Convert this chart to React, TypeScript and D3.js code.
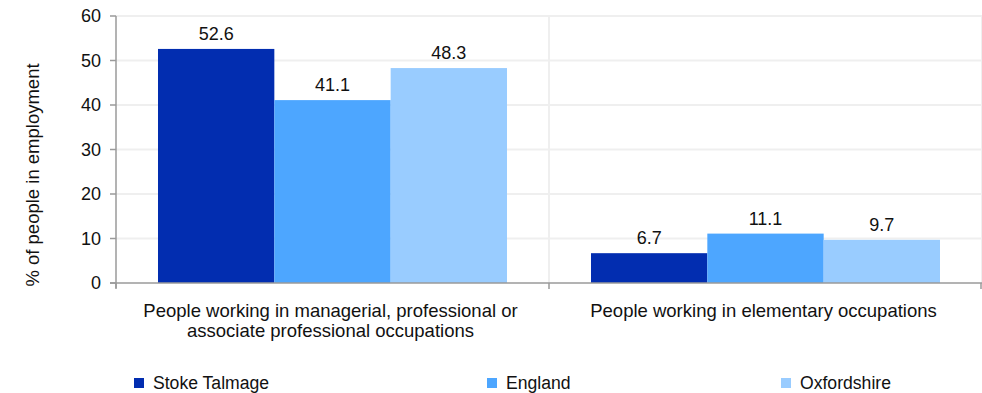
import React from "react";
import * as d3 from "d3";

const categories = [
  ["People working in managerial, professional or", "associate professional occupations"],
  ["People working in elementary occupations"],
];
const seriesNames = ["Stoke Talmage", "England", "Oxfordshire"];
const stokeTalmage = [52.6, 6.7];
const england = [41.1, 11.1];
const oxfordshire = [48.3, 9.7];
const yTicks = [0, 10, 20, 30, 40, 50, 60];
const yTitle = "% of people in employment";

const seriesValues = [stokeTalmage, england, oxfordshire];
const colors = ["#022db0", "#4da6ff", "#99ccff"];

const W = 982;
const H = 393;
const left = 116;
const right = 982;
const top = 16;
const bottom = 283;
const FONT = "'Liberation Sans', Arial, sans-serif";
const legendX = [134, 487, 781];

export default function App() {
  const catIdx = categories.map((_, i) => String(i));
  const x0 = d3.scaleBand<string>().domain(catIdx).range([left, right]).padding(0);
  const x1 = d3
    .scaleBand<string>()
    .domain(seriesNames)
    .range([0, x0.bandwidth()])
    .paddingInner(0)
    .paddingOuter(0.361);
  const y = d3.scaleLinear().domain([0, 60]).range([bottom, top]);

  const gridColor = "#efefef";
  const axisColor = "#9a9a9a";

  return (
    <svg
      width={W}
      height={H}
      style={{ position: "absolute", left: 0, top: 0, background: "#fff" }}
      fontFamily={FONT}
    >
      {/* horizontal gridlines */}
      {yTicks.filter((t) => t > 0).map((t) => (
        <line key={"g" + t} x1={left} x2={right} y1={y(t)} y2={y(t)} stroke={gridColor} strokeWidth={2} />
      ))}
      {/* vertical gridlines */}
      {catIdx.map((c, i) => (
        <line
          key={"vg" + i}
          x1={(x0(c) as number) + x0.bandwidth()}
          x2={(x0(c) as number) + x0.bandwidth()}
          y1={top}
          y2={bottom}
          stroke={gridColor}
          strokeWidth={2}
        />
      ))}
      {/* bars */}
      {seriesNames.map((s, si) =>
        catIdx.map((c, ci) => {
          const v = seriesValues[si][ci];
          const bx = (x0(c) as number) + (x1(s) as number);
          return (
            <g key={s + c}>
              <rect x={bx} y={y(v)} width={x1.bandwidth()} height={y(0) - y(v)} fill={colors[si]} />
              <text
                x={bx + x1.bandwidth() / 2}
                y={y(v) - 9}
                textAnchor="middle"
                fontSize={18}
                fill="#111"
              >
                {v.toFixed(1)}
              </text>
            </g>
          );
        })
      )}
      {/* y axis */}
      <line x1={left} x2={left} y1={top} y2={bottom + 5} stroke={axisColor} strokeWidth={1.5} />
      {yTicks.map((t) => (
        <g key={"t" + t}>
          <line x1={left - 6} x2={left} y1={y(t)} y2={y(t)} stroke={axisColor} strokeWidth={1.5} />
          <text x={101} y={y(t)} dy="0.35em" textAnchor="end" fontSize={18} fill="#111">
            {t}
          </text>
        </g>
      ))}
      {/* x axis */}
      <line x1={left - 6} x2={right} y1={bottom} y2={bottom} stroke={axisColor} strokeWidth={1.5} />
      {[...catIdx.map((c) => x0(c) as number), right - 1].map((xx, i) => (
        <line key={"xt" + i} x1={xx} x2={xx} y1={bottom} y2={bottom + 6} stroke={axisColor} strokeWidth={1.5} />
      ))}
      {/* category labels */}
      {categories.map((lines, ci) => (
        <text
          key={"c" + ci}
          x={(x0(String(ci)) as number) + x0.bandwidth() / 2 - 2}
          y={316.5}
          textAnchor="middle"
          fontSize={18.5}
          fill="#111"
        >
          {lines.map((ln, li) => (
            <tspan key={li} x={(x0(String(ci)) as number) + x0.bandwidth() / 2 - 2} dy={li === 0 ? 0 : 20}>
              {ln}
            </tspan>
          ))}
        </text>
      ))}
      {/* y title */}
      <text
        transform={`translate(39,175) rotate(-90)`}
        textAnchor="middle"
        fontSize={18.5}
        fill="#111"
      >
        {yTitle}
      </text>
      {/* legend */}
      {seriesNames.map((s, si) => (
        <g key={"l" + s}>
          <rect x={legendX[si]} y={378} width={10} height={10} fill={colors[si]} />
          <text x={legendX[si] + 19} y={388.5} fontSize={17.6} fill="#111">
            {s}
          </text>
        </g>
      ))}
    </svg>
  );
}
